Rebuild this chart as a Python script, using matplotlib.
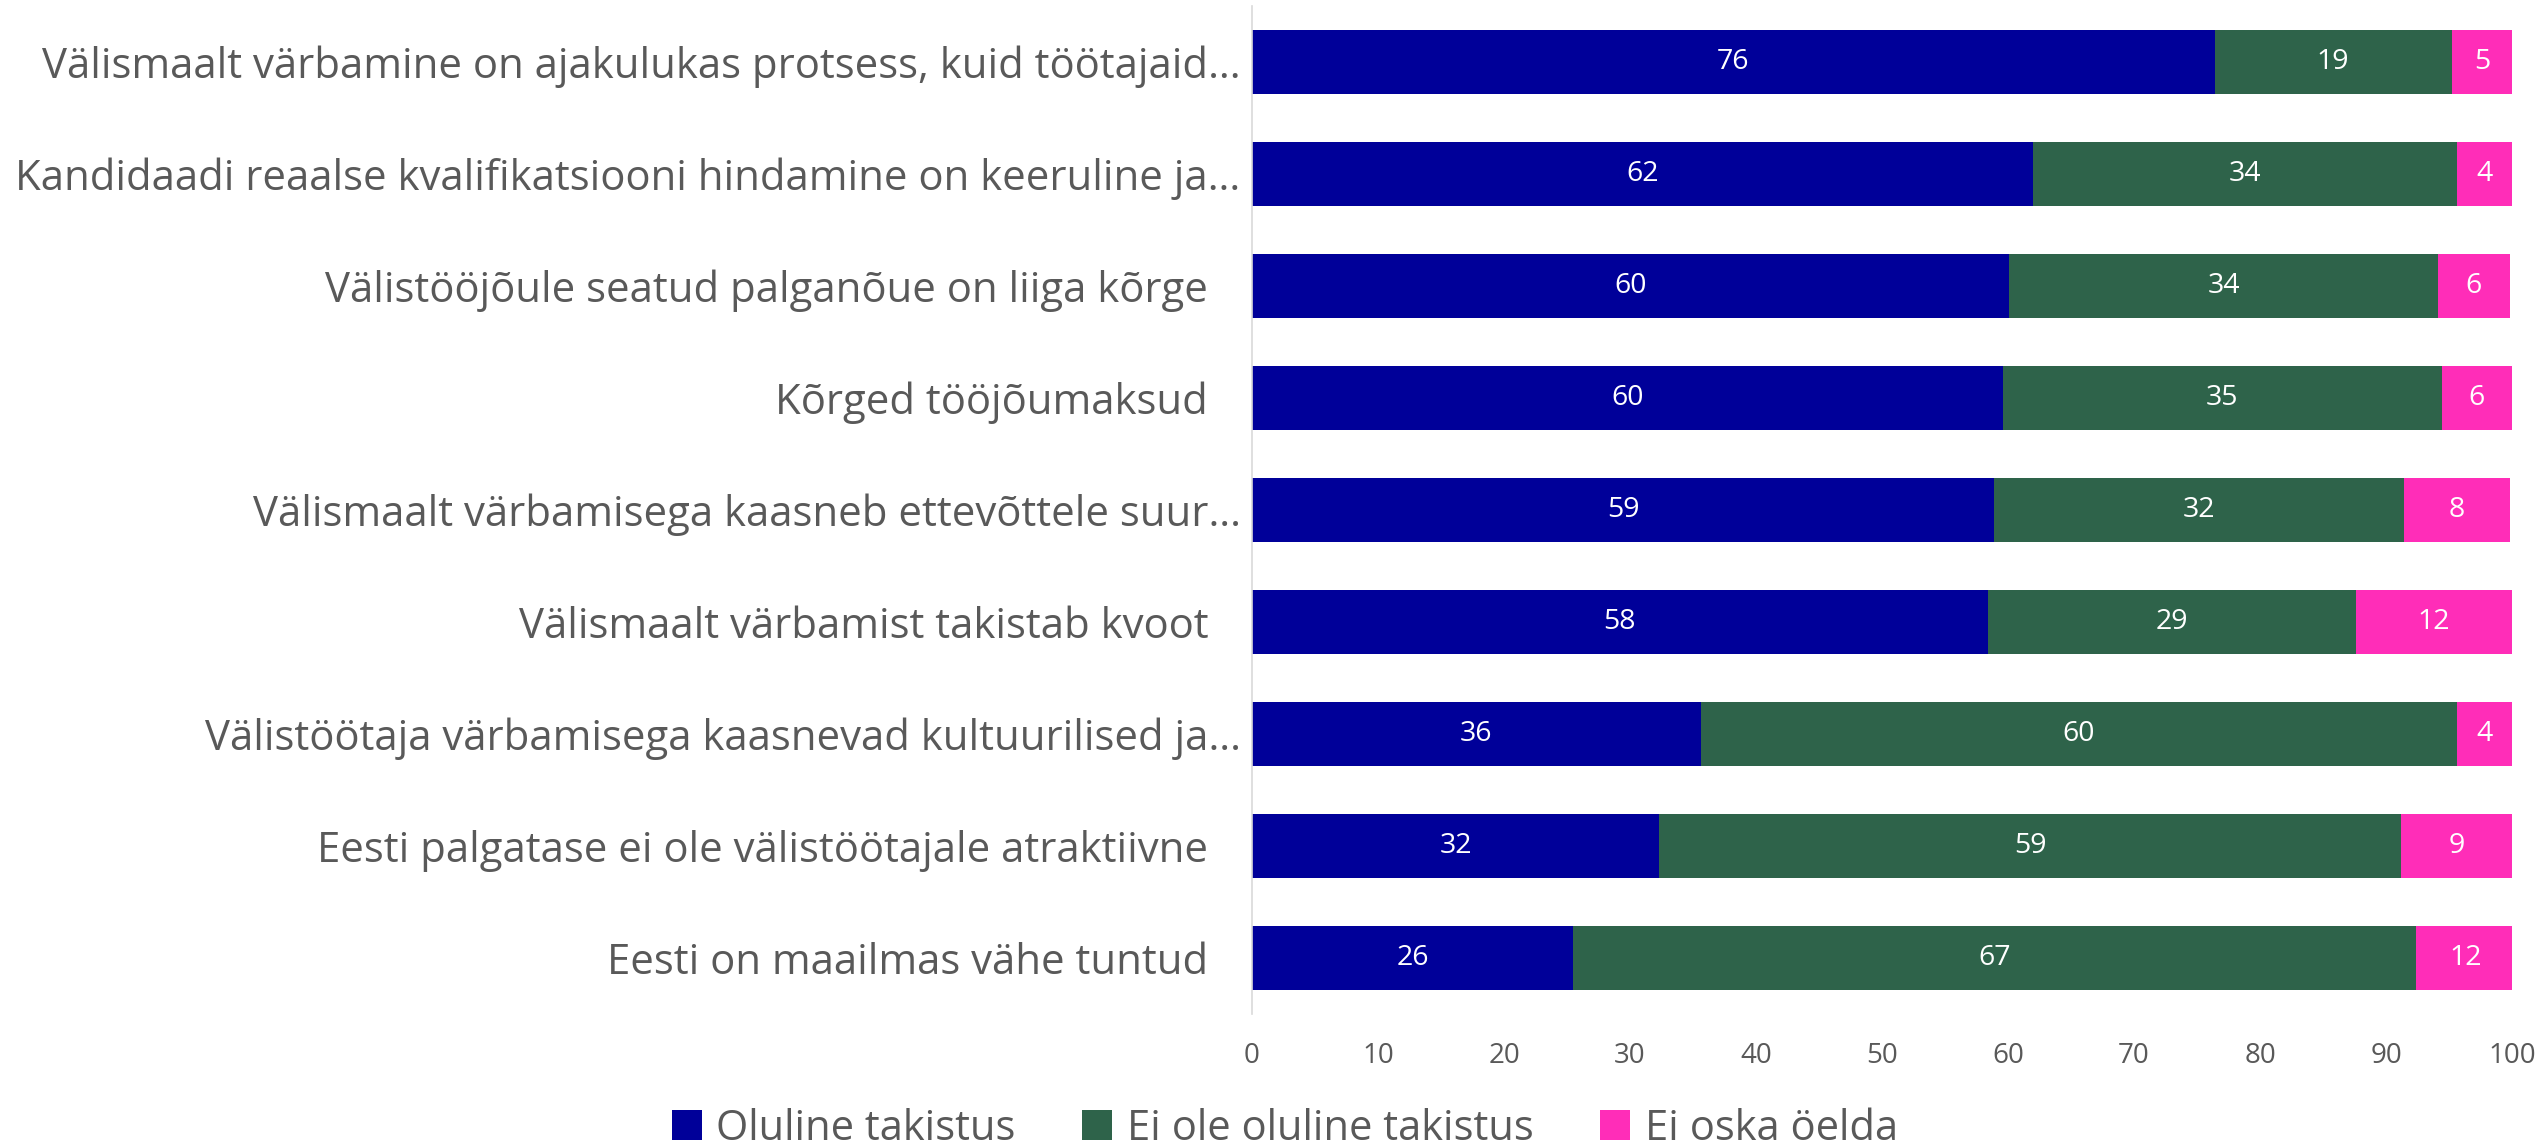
import matplotlib

matplotlib.use("Agg")
import matplotlib.pyplot as plt
import numpy as np
from matplotlib.patches import Patch

plt.rcParams["font.family"] = ["Open Sans", "DejaVu Sans"]

categories = [
    "Välismaalt värbamine on ajakulukas protsess, kuid töötajaid…",
    "Kandidaadi reaalse kvalifikatsiooni hindamine on keeruline ja…",
    "Välistööjõule seatud palganõue on liiga kõrge   ",
    "Kõrged tööjõumaksud   ",
    "Välismaalt värbamisega kaasneb ettevõttele suur…",
    "Välismaalt värbamist takistab kvoot   ",
    "Välistöötaja värbamisega kaasnevad kultuurilised ja…",
    "Eesti palgatase ei ole välistöötajale atraktiivne   ",
    "Eesti on maailmas vähe tuntud   ",
]
series_names = ["Oluline takistus", "Ei ole oluline takistus", "Ei oska öelda"]

important = [76.4, 62.0, 60.1, 59.6, 58.9, 58.4, 35.6, 32.3, 25.5]
not_important = [18.8, 33.6, 34.0, 34.8, 32.5, 29.2, 60.0, 58.9, 66.9]
dont_know = [4.8, 4.4, 5.7, 5.6, 8.4, 12.4, 4.4, 8.8, 7.9]

important_labels = ["76", "62", "60", "60", "59", "58", "36", "32", "26"]
not_important_labels = ["19", "34", "34", "35", "32", "29", "60", "59", "67"]
dont_know_labels = ["5", "4", "6", "6", "8", "12", "4", "9", "12"]

colors = ["#000099", "#2E634A", "#FF2DB8"]
text_color = "#595959"

fig = plt.figure(figsize=(25.39, 11.46), dpi=100)
ax = fig.add_axes([0.4931, 0.115, 0.4963, 0.880])

y = np.arange(len(categories))
left = np.zeros(len(categories))
for values, labels, color in zip(
    [important, not_important, dont_know],
    [important_labels, not_important_labels, dont_know_labels],
    colors,
):
    vals = np.array(values)
    bars = ax.barh(y, vals, left=left, height=0.57, color=color, linewidth=0)
    for bar, lab in zip(bars, labels):
        cx = bar.get_x() + bar.get_width() / 2
        cy = bar.get_y() + bar.get_height() / 2
        ax.text(cx, cy, lab, ha="center", va="center", color="white", fontsize=20.5)
    left += vals

ax.set_yticks(y)
ax.set_yticklabels(categories, fontsize=30.2, color=text_color)
ax.set_ylim(len(categories) - 0.5, -0.5)
ax.set_xlim(0, 100)
ax.set_xticks(np.arange(0, 101, 10))
ax.tick_params(axis="x", labelsize=20, labelcolor=text_color, length=0, pad=20)
ax.tick_params(axis="y", length=0, pad=8)

for side in ["top", "right", "bottom"]:
    ax.spines[side].set_visible(False)
ax.spines["left"].set_color("#D9D9D9")
ax.spines["left"].set_linewidth(1.2)

handles = [Patch(facecolor=c, edgecolor="none") for c in colors]
fig.legend(
    handles,
    series_names,
    loc="center",
    bbox_to_anchor=(0.506, 0.015),
    ncol=3,
    frameon=False,
    fontsize=30,
    labelcolor=text_color,
    handlelength=0.72,
    handleheight=0.72,
    handletextpad=0.35,
    columnspacing=1.6,
)

fig.savefig("out.png", dpi=100)
